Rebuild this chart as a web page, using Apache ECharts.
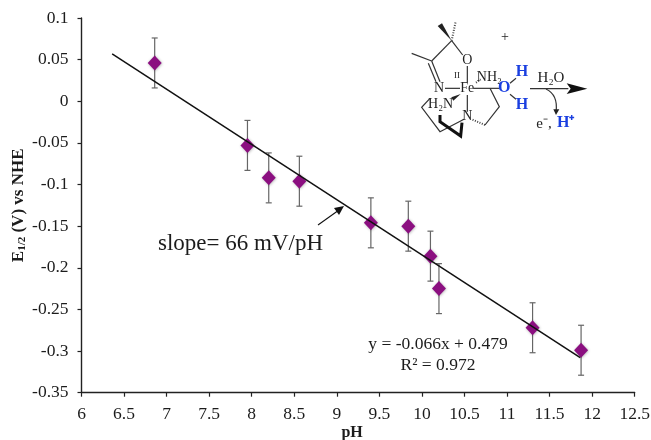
<!DOCTYPE html>
<html><head><meta charset="utf-8">
<style>html,body{margin:0;padding:0;background:#fff}#c{width:651px;height:440px}</style>
<script src="https://cdn.jsdelivr.net/npm/echarts@6/dist/echarts.min.js"></script>
</head><body><div id="c"></div>
<script>
const phValues = [6.86, 7.95, 8.2, 8.56, 9.4, 9.84, 10.1, 10.2, 11.3, 11.87];
const potentials = [0.046, -0.053, -0.092, -0.096, -0.146, -0.15, -0.186, -0.225, -0.272, -0.299];
const errorHalf = [0.03, 0.03, 0.03, 0.03, 0.03, 0.03, 0.03, 0.03, 0.03, 0.03];
const trendX = [6.36, 11.86];
const trendY = [0.0568, -0.308];

const serif = '"Liberation Serif", serif';
const ink = '#1c1c1c';
const chart = echarts.init(document.getElementById('c'), null, {renderer: 'canvas'});

// Molecule sketch: decoration drawn in its own local coordinates (3x scale)
const Z = (x, y) => [390 + x / 3, y / 3];
const bond = (x1, y1, x2, y2, w = 1.2, color = '#333', dash) => {
  const a = Z(x1, y1), b = Z(x2, y2);
  return {type: 'line', silent: true, shape: {x1: a[0], y1: a[1], x2: b[0], y2: b[1]},
    style: {stroke: color, lineWidth: w, lineDash: dash}};
};
const poly = (pts, color = '#222') => ({type: 'polygon', silent: true,
  shape: {points: pts.map(p => Z(p[0], p[1]))}, style: {fill: color}});
const label = (x, y, text, size = 14, extra = {}) => {
  const p = Z(x, y);
  return {type: 'text', silent: true, x: p[0], y: p[1], z: 5,
    style: Object.assign({text, font: size + 'px ' + serif, fill: '#222', align: 'center', verticalAlign: 'middle'}, extra)};
};
const blue = {fill: '#1a3fe0', font: 'bold 16px ' + serif};
const line3 = (pts, w, color) => ({type: 'polyline', silent: true,
  shape: {points: pts.map(p => Z(p[0], p[1]))},
  style: {stroke: color, lineWidth: w, fill: null}});
const curve = (() => {
  const a = Z(468, 267), c = Z(505, 285), b = Z(498, 335);
  return {type: 'bezierCurve', silent: true,
    shape: {x1: a[0], y1: a[1], x2: b[0], y2: b[1], cpx1: c[0], cpy1: c[1]},
    style: {stroke: '#333', lineWidth: 1.2, fill: null}};
})();

const molecule = [
  poly([[185, 122], [143, 78], [156, 70]]),
  bond(185, 122, 197, 65, 2, '#444', [1, 1.5]),
  bond(185, 122, 218, 165),
  bond(185, 122, 125, 183),
  bond(125, 183, 65, 160),
  bond(125, 183, 150, 245),
  bond(115, 190, 138, 245),
  bond(232, 198, 232, 248),
  bond(165, 265, 210, 265),
  bond(250, 265, 328, 265),
  bond(360, 250, 378, 235),
  bond(360, 283, 378, 298),
  bond(232, 285, 232, 335),
  bond(258, 248, 272, 238, 2, '#444', [1, 1.5]),
  bond(285, 375, 245, 358, 2, '#444', [1, 1.5]),
  poly([[212, 282], [184, 292], [190, 302]]),
  line3([[120, 295], [95, 322], [150, 395], [222, 358]], 1.2, '#333'),
  line3([[150, 345], [150, 365], [212, 408], [216, 368]], 3, '#111'),
  line3([[300, 265], [328, 320], [285, 375]], 1.2, '#333'),
  bond(420, 266, 535, 266, 1.4),
  poly([[530, 250], [592, 266], [530, 282], [542, 266]], '#111'),
  curve,
  poly([[490, 328], [508, 328], [498, 345]], '#222'),
  label(232, 180, 'O'),
  label(147, 265, 'N'),
  label(232, 265, 'Fe'),
  label(201, 226, 'II', 9),
  label(298, 232, 'NH\u2082'),
  label(152, 312, 'H\u2082N'),
  label(232, 350, 'N'),
  label(343, 265, 'O', 16, blue),
  label(396, 216, 'H', 16, blue),
  label(396, 315, 'H', 16, blue),
  label(345, 113, '+', 14),
  label(483, 235, 'H\u2082O', 15),
  label(462, 373, 'e\u207B,', 15),
  label(527, 370, 'H\u207A', 16, blue)
];

const annotations = [
  {type: 'text', silent: true, x: 158, y: 244, style: {text: 'slope= 66 mV/pH', font: '23px ' + serif, fill: ink, align: 'left', verticalAlign: 'middle'}},
  {type: 'text', silent: true, x: 438, y: 344, style: {text: 'y = -0.066x + 0.479', font: '17.5px ' + serif, fill: ink, align: 'center', verticalAlign: 'middle'}},
  {type: 'text', silent: true, x: 438, y: 365, style: {text: 'R\u00B2 = 0.972', font: '17.5px ' + serif, fill: ink, align: 'center', verticalAlign: 'middle'}},
  {type: 'line', silent: true, shape: {x1: 318, y1: 225, x2: 339, y2: 210}, style: {stroke: '#111', lineWidth: 1.1}},
  {type: 'polygon', silent: true, shape: {points: [[344, 206], [334, 208], [339, 215]]}, style: {fill: '#111'}}
];

chart.setOption({
  animation: false,
  backgroundColor: '#fff',
  grid: {left: 81.5, right: 16.3, top: 18, bottom: 47.3, containLabel: false, outerBoundsMode: 'none'},
  xAxis: {
    type: 'value', min: 6, max: 12.5, interval: 0.5,
    splitLine: {show: false},
    axisLine: {onZero: false, lineStyle: {color: '#222', width: 1.4}},
    axisTick: {length: 4, inside: false, lineStyle: {color: '#222', width: 1.2}},
    axisLabel: {fontFamily: serif, fontSize: 17.5, color: ink, margin: 13},
    name: 'pH', nameLocation: 'middle', nameGap: 32, nameMoveOverlap: false,
    nameTextStyle: {fontFamily: serif, fontSize: 16, fontWeight: 'bold', color: ink, padding: [0, 12, 0, 0]}
  },
  yAxis: {
    type: 'value', min: -0.35, max: 0.1, interval: 0.05,
    splitLine: {show: false},
    axisLine: {onZero: false, lineStyle: {color: '#222', width: 1.4}},
    axisTick: {length: 4, inside: false, lineStyle: {color: '#222', width: 1.2}},
    axisLabel: {fontFamily: serif, fontSize: 17.5, color: ink, margin: 13, padding: [6, 0, 0, 0]},
    name: '{b|E}{s|1/2}{b| (V) vs NHE}', nameLocation: 'middle', nameGap: 54, nameMoveOverlap: false,
    nameTextStyle: {
      rich: {
        b: {fontFamily: serif, fontSize: 17, fontWeight: 'bold', color: ink},
        s: {fontFamily: serif, fontSize: 11, fontWeight: 'bold', color: ink, verticalAlign: 'bottom', padding: [7, 0, 0, 0]}
      }
    }
  },
  series: [
    {
      type: 'line', data: trendX.map((x, i) => [x, trendY[i]]),
      symbol: 'none', silent: true, z: 5,
      lineStyle: {color: '#111', width: 1.5}
    },
    {
      type: 'custom', silent: true, z: 2,
      data: phValues.map((x, i) => [x, potentials[i] + errorHalf[i], potentials[i] - errorHalf[i]]),
      encode: {x: 0, y: [1, 2]},
      renderItem(params, api) {
        const hi = api.coord([api.value(0), api.value(1)]);
        const lo = api.coord([api.value(0), api.value(2)]);
        const st = {stroke: '#666', lineWidth: 1.2};
        return {type: 'group', children: [
          {type: 'line', shape: {x1: hi[0], y1: hi[1], x2: lo[0], y2: lo[1]}, style: st},
          {type: 'line', shape: {x1: hi[0] - 3, y1: hi[1], x2: hi[0] + 3, y2: hi[1]}, style: st},
          {type: 'line', shape: {x1: lo[0] - 3, y1: lo[1], x2: lo[0] + 3, y2: lo[1]}, style: st}
        ]};
      }
    },
    {
      type: 'scatter', data: phValues.map((x, i) => [x, potentials[i]]),
      symbol: 'diamond', symbolSize: [14, 15], z: 4, silent: true,
      itemStyle: {color: '#8b0f80', opacity: 1, shadowBlur: 3, shadowColor: 'rgba(0,0,0,0.3)', shadowOffsetX: 0.5, shadowOffsetY: 0.5}
    }
  ],
  graphic: {elements: annotations.concat(molecule)}
});
</script></body></html>
